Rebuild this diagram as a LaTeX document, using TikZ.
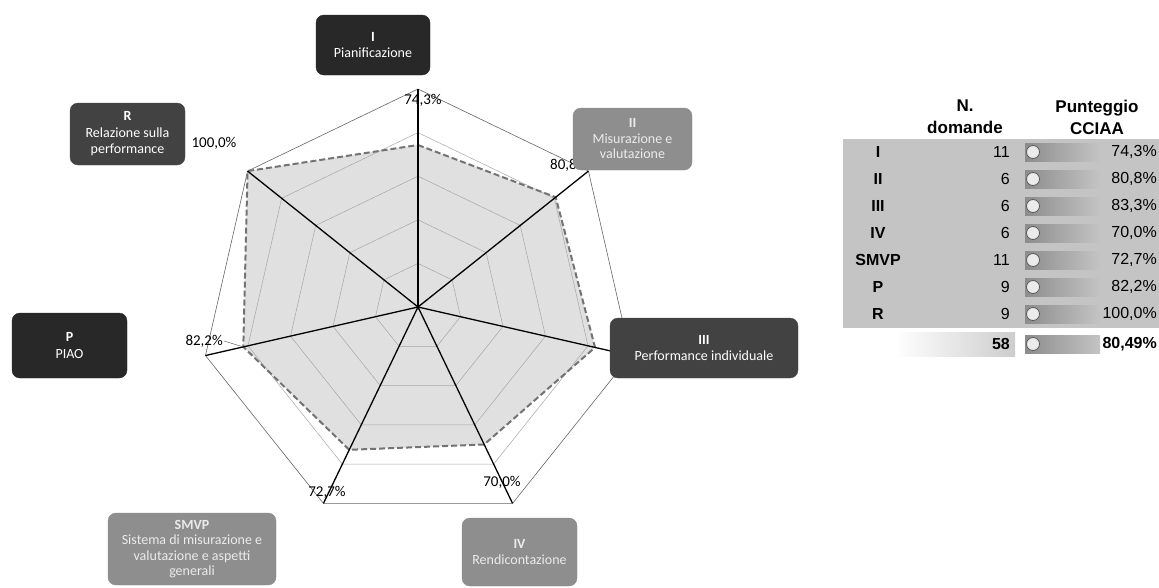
\documentclass[tikz,border=0pt]{standalone}
\usepackage{fontspec}
\setmainfont{Carlito}
\newfontfamily\tabfont{Liberation Sans}
\usetikzlibrary{calc, positioning}
\definecolor{boxdark}{RGB}{40,40,40}
\definecolor{boxmid}{RGB}{66,66,66}
\definecolor{boxlight}{RGB}{142,142,142}
\definecolor{areafill}{RGB}{224,224,224}
\definecolor{tabbg}{RGB}{196,196,196}

\begin{document}
\begin{tikzpicture}
    [
        x=1pt, y=-1pt, node distance=27pt, >=latex,
        darkbox/.style={draw=black!85, fill=boxdark, rounded corners=8pt, text=white, align=center, font=\fontsize{14}{16.5}\selectfont},
        midbox/.style={draw=black!70, fill=boxmid, rounded corners=8pt, text=white, align=center, font=\fontsize{14}{16.5}\selectfont},
        greybox/.style={draw=black!45, fill=boxlight, rounded corners=8pt, text=white!92!black, align=center, font=\fontsize{14}{15.5}\selectfont},
        pct/.style={font=\fontsize{15}{15}\selectfont, inner sep=1pt},
        rowlab/.style={font=\tabfont\bfseries\fontsize{16}{16}\selectfont},
        rownum/.style={font=\tabfont\fontsize{16}{16}\selectfont, anchor=east, inner sep=0pt},
        knob/.style={draw=black!65, line width=0.8pt, fill=black!8, circle, minimum size=13pt, inner sep=0pt}
    ]
    \tikzstyle{spoke} = [draw, line width=1.3pt]
    \tikzstyle{ring} = [draw, black!35, line width=0.5pt]
    \tikzstyle{datadash} = [draw, black!55, line width=2pt, dash pattern=on 6pt off 3pt]

    \useasboundingbox (0,0) rectangle (1159,587);

    % radar
    \begin{scope}[shift={(418,307)}, yscale=-1]
        \coordinate (c) at (0,0);
        \coordinate (vI) at (90:218);
        \coordinate (vII) at (38.57:218);
        \coordinate (vIII) at (-12.86:218);
        \coordinate (vIV) at (-64.29:218);
        \coordinate (vSMVP) at (-115.71:218);
        \coordinate (vP) at (-167.14:218);
        \coordinate (vR) at (141.43:218);
        \coordinate (dI) at (90:162);
        \coordinate (dII) at (38.57:176.1);
        \coordinate (dIII) at (-12.86:181.6);
        \coordinate (dIV) at (-64.29:152.6);
        \coordinate (dSMVP) at (-115.71:158.5);
        \coordinate (dP) at (-167.14:179.2);
        \coordinate (dR) at (141.43:218);
        \fill[areafill] (dI) -- (dII) -- (dIII) -- (dIV) -- (dSMVP) -- (dP) -- (dR) -- cycle;
        \foreach \r in {43.6, 87.2, 130.8, 174.4}
            \draw[ring] (90:\r) -- (38.57:\r) -- (-12.86:\r) -- (-64.29:\r) -- (-115.71:\r) -- (-167.14:\r) -- (141.43:\r) -- cycle;
        \draw[black!60, line width=0.6pt] (vI) -- (vII) -- (vIII) -- (vIV) -- (vSMVP) -- (vP) -- (vR) -- cycle;
        \draw[datadash] (dI) -- (dII) -- (dIII) -- (dIV) -- (dSMVP) -- (dP) -- (dR) -- cycle;
        \path[spoke] (c) edge (vI) edge (vII) edge (vIII) edge (vIV) edge (vSMVP) edge (vP) edge (vR);
    \end{scope}

    % percent labels
    \node[pct] (pI) at (423,100) {74,3\%};
    \node[pct, anchor=west] (pII) at (549,165) {80,8\%};
    \node[pct] (pR) at (214,143) {100,0\%};
    \node[pct, anchor=east] (pP) at (224,341) {82,2\%};
    \node[pct] (pSMVP) at (327,492) {72,7\%};
    \node[pct] (pIV) at (502,482) {70,0\%};
    \draw[black!70] (pP.east) -- (dP);

    % boxes
    \node[darkbox, minimum width=114pt, minimum height=60pt] (pianif) at (373,45) {\textbf{I}\\Pianificazione};
    \node[midbox, minimum width=115pt, minimum height=62pt] (relaz) at (127.5,134) {\textbf{R}\\Relazione sulla\\performance};
    \node[greybox, minimum width=119pt, minimum height=62pt] (misur) at (632.5,139) {\textbf{II}\\Misurazione e\\valutazione};
    \node[midbox, minimum width=188pt, minimum height=60pt] (perf) at (704,348) {\textbf{III}\\Performance individuale};
    \node[greybox, minimum width=115pt, minimum height=68pt] (rendic) at (519.5,552) {\textbf{IV}\\Rendicontazione};
    \node[greybox, minimum width=168pt, minimum height=72pt] (smvp) at (192,549) {\textbf{SMVP}\\Sistema di misurazione e\\valutazione e aspetti\\generali};
    \node[darkbox, minimum width=115pt, minimum height=65pt] (piao) at (69.5,345.5) {\textbf{P}\\PIAO};

    % table
    \fill[tabbg] (843,139) rectangle (1159,328);
    \node[font=\tabfont\bfseries\fontsize{17}{22}\selectfont, align=center] (hdrN) at (965,117) {N.\\domande};
    \node[font=\tabfont\bfseries\fontsize{17}{22}\selectfont, align=center, right of=hdrN, node distance=132pt] (hdrP) {Punteggio\\CCIAA};
    \foreach \y/\lab/\n/\p [count=\k] in {152/I/11/{74,3\%}, 179/II/6/{80,8\%}, 206/III/6/{83,3\%}, 233/IV/6/{70,0\%}, 260/SMVP/11/{72,7\%}, 287/P/9/{82,2\%}, 314/R/9/{100,0\%}}
    {
        \node[rowlab] (lab\k) at (878,\y) {\lab};
        \node[rownum] (num\k) at (1010,\y) {\n};
        \shade[left color=black!45, right color=tabbg] (1025,{\y-9}) rectangle (1100,{\y+9});
        \node[knob] (knob\k) at (1033,\y) {};
        \node[rownum] (pct\k) at (1157,\y) {\p};
    }
    \shade[left color=white, right color=tabbg!85] (895,332) rectangle (1015,356);
    \node[rownum, font=\tabfont\bfseries\fontsize{16}{16}\selectfont] (numTot) at (1010,344) {58};
    \shade[left color=black!45, right color=tabbg] (1025,335) rectangle (1100,353);
    \node[knob] (knobTot) at (1033,344) {};
    \node[rownum, font=\tabfont\bfseries\fontsize{16}{16}\selectfont] (pctTot) at (1157,344) {80,49\%};

\end{tikzpicture}
\end{document}
